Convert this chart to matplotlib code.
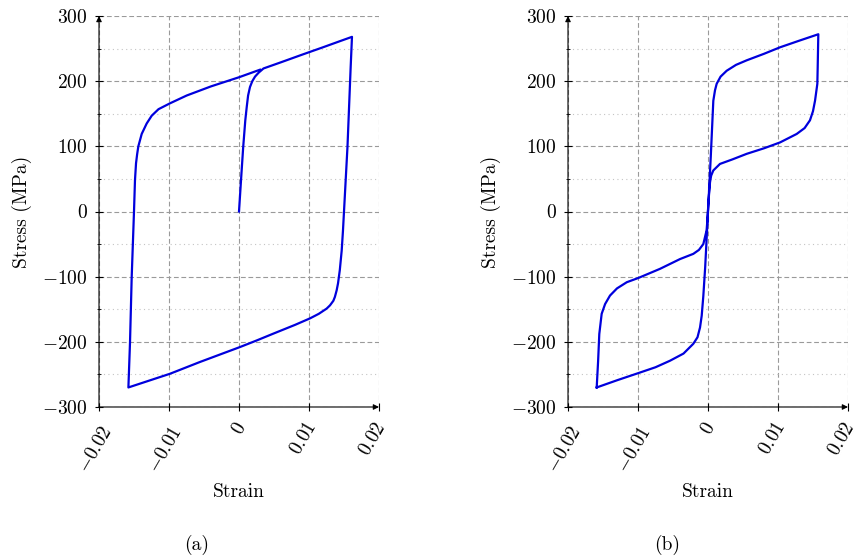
import matplotlib
matplotlib.use('Agg')
import matplotlib.pyplot as plt
from matplotlib.ticker import FixedLocator, FixedFormatter, MultipleLocator
from matplotlib.transforms import ScaledTranslation

plt.rcParams['font.family'] = 'serif'
plt.rcParams['font.serif'] = ['cmr10', 'DejaVu Serif']
plt.rcParams['mathtext.fontset'] = 'cm'
plt.rcParams['axes.formatter.use_mathtext'] = True
plt.rcParams['font.size'] = 14

# --- data (strain [-], stress [MPa]) ---
strain_a = [0.0, 0.0003, 0.0006, 0.0009, 0.0011, 0.0013, 0.00157, 0.0019, 0.00229, 0.0028, 0.0035,
            0.006, 0.009, 0.012, 0.0145, 0.01614,
            0.01595, 0.0155, 0.0150, 0.01485, 0.01467, 0.0144, 0.01415, 0.01395, 0.0137, 0.01348,
            0.0130, 0.01252, 0.0114, 0.01014,
            0.008, 0.005, 0.0025, 0.00014, -0.0056, -0.00986, -0.0158,
            -0.01557, -0.01533, -0.0150, -0.01486, -0.01471, -0.01455, -0.01438, -0.0139, -0.01319,
            -0.01247, -0.0115, -0.00986, -0.00747, -0.004, 0.0, 0.003]
stress_a = [0, 50, 99, 140, 160, 178, 191, 200, 207, 213, 219.5,
            229, 240.6, 252, 261.7, 268,
            221, 100, 0, -30, -60, -90, -110, -121, -131, -137,
            -144, -149, -157, -164,
            -174, -187, -198, -208, -231, -249, -270,
            -201, -101, 0, 48, 74, 88, 100, 119, 135,
            147, 157, 166, 178, 192, 206, 217.6]

strain_b = [-0.0159, -0.0130, -0.00996, -0.0075, -0.00543, -0.0035, -0.0021, -0.0015, -0.00114, -0.0009,
            -0.00067, -0.0004, 0.0, 0.0004, 0.00076, 0.001, 0.00124, 0.0018, 0.00267, 0.004, 0.00553,
            0.008, 0.0103, 0.013, 0.01576,
            0.01572, 0.01567, 0.01562, 0.01529, 0.0150, 0.01457, 0.0138, 0.01267, 0.01029, 0.008,
            0.00553, 0.0035, 0.00171, 0.00076, 0.00045, 0.00029, 0.0001, -0.0001, -0.0002, -0.00067,
            -0.0013, -0.0021, -0.004, -0.00686, -0.00995, -0.0116, -0.0130, -0.014, -0.0147, -0.01519,
            -0.01553, -0.0157, -0.0159]
stress_b = [-270, -259, -248, -239, -229, -218, -203, -193, -178, -160,
            -130, -85, 0, 85, 170, 186, 196, 207, 216, 225, 232,
            242, 252, 262, 272,
            250, 221, 196, 170, 154, 140, 128, 119, 106, 97,
            88.5, 80, 73, 63, 55, 45, 20, -15, -29, -50,
            -59, -65, -73, -88, -102, -108.5, -118, -129, -142, -157,
            -188, -230, -270]

x_ticks = [-0.02, -0.01, 0.0, 0.01, 0.02]
x_ticklabels = [r'$-0.02$', r'$-0.01$', r'$0$', r'$0.01$', r'$0.02$']
y_ticks = [-300, -200, -100, 0, 100, 200, 300]
y_ticklabels = [r'$-300$', r'$-200$', r'$-100$', r'$0$', r'$100$', r'$200$', r'$300$']

line_color = '#0000dd'


def style_axis(ax):
    ax.set_xlim(-0.02, 0.02)
    ax.set_ylim(-300, 300)
    for s in ax.spines.values():
        s.set_visible(False)

    ax.xaxis.set_major_locator(FixedLocator(x_ticks))
    ax.xaxis.set_major_formatter(FixedFormatter(x_ticklabels))
    ax.yaxis.set_major_locator(FixedLocator(y_ticks))
    ax.yaxis.set_major_formatter(FixedFormatter(y_ticklabels))
    ax.yaxis.set_minor_locator(MultipleLocator(50))

    ax.grid(which='major', linestyle=(0, (4.3, 2.4)), color='#9a9a9a', lw=0.8)
    ax.grid(which='minor', axis='y', linestyle=(0, (1, 3)), color='#c4c4c4', lw=0.8)
    ax.set_axisbelow(True)

    ax.tick_params(which='major', direction='inout', length=6, width=0.8, labelsize=14)
    ax.tick_params(which='minor', direction='inout', length=3.5, width=0.6)
    ax.tick_params(axis='y', pad=5)
    ax.tick_params(axis='x', pad=9)

    # rotated strain labels, nudged like the pgfplots anchors
    for tick, txt in zip(ax.xaxis.get_major_ticks(), x_ticklabels):
        lab = tick.label1
        lab.set_rotation(60)
        lab.set_ha('right')
        lab.set_va('center')
        lab.set_rotation_mode('anchor')
        dx, dy = (9, 4) if txt.startswith(r'$-') else (3, 0)
        lab.set_transform(lab.get_transform() +
                          ScaledTranslation(dx / 100, -dy / 100, ax.figure.dpi_scale_trans))

    # pgfplots style axis lines with arrow tips
    arrow = dict(arrowstyle='-|>', color='black', lw=0.8, mutation_scale=8,
                 shrinkA=0, shrinkB=0)
    ax.annotate('', xy=(0, 1), xytext=(0, 0), xycoords='axes fraction',
                textcoords='axes fraction', arrowprops=arrow, annotation_clip=False)
    ax.annotate('', xy=(1, 0), xytext=(0, 0), xycoords='axes fraction',
                textcoords='axes fraction', arrowprops=arrow, annotation_clip=False)

    ax.set_xlabel('Strain', fontsize=14)
    ax.set_ylabel('Stress (MPa)', fontsize=14)
    ax.xaxis.set_label_coords(0.5, -0.195)
    ax.yaxis.set_label_coords(-0.238, 0.5)


fig = plt.figure(figsize=(8.56, 5.58), dpi=100)
ax_a = fig.add_axes([99 / 856, 1 - 407 / 558, 280 / 856, 391 / 558])
ax_b = fig.add_axes([568 / 856, 1 - 407 / 558, 280 / 856, 391 / 558])

ax_a.plot(strain_a, stress_a, color=line_color, lw=1.6, solid_joinstyle='round')
ax_b.plot(strain_b, stress_b, color=line_color, lw=1.6, solid_joinstyle='round')

style_axis(ax_a)
style_axis(ax_b)

fig.text(197 / 856, 1 - 545 / 558, '(a)', ha='center', va='center', fontsize=14)
fig.text(667 / 856, 1 - 545 / 558, '(b)', ha='center', va='center', fontsize=14)

fig.savefig('out.png', dpi=100)
